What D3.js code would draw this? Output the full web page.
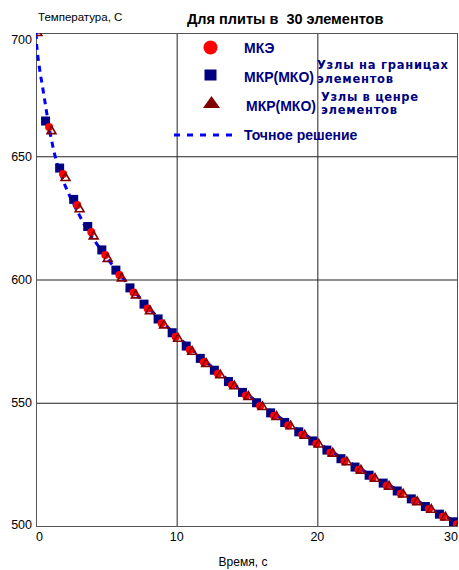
<!DOCTYPE html>
<html>
<head>
<meta charset="utf-8">
<script src="https://cdn.jsdelivr.net/npm/d3@7"></script>
<style>
  body { margin: 0; background: #fff; }
  text { font-family: "Liberation Sans", Arial, sans-serif; }
</style>
</head>
<body>
<div id="chart"></div>
<script>
// Data
// time steps (s) for the marker series
const time = [0, 1, 2, 3, 4, 5, 6, 7, 8, 9, 10, 11, 12, 13, 14, 15,
    16, 17, 18, 19, 20, 21, 22, 23, 24, 25, 26, 27, 28, 29, 30];
// МКР(МКО), nodes on element boundaries (null = no marker)
const fdmBoundary = [null, 664.3, 645.2, 632.5, 621.5, 612.0, 603.8, 596.6, 590.0, 584.0, 578.4,
    573.0, 568.0, 563.2, 558.6, 554.2, 550.0, 545.9, 542.0, 538.2, 534.5,
    530.8, 527.3, 523.9, 520.6, 517.4, 514.2, 511.0, 507.9, 504.8, 501.7];
// МКЭ
const fem = [null, 661.9, 642.8, 630.2, 619.3, 609.9, 601.8, 594.7, 588.2, 582.3, 576.8,
    571.5, 566.5, 561.8, 557.2, 552.9, 548.7, 544.7, 540.8, 537.0, 533.4,
    529.7, 526.2, 522.8, 519.5, 516.3, 513.1, 510.0, 506.9, 503.8, 500.7];
// МКР(МКО), nodes in element centres
const fdmCentre = [700.0, 660.2, 641.2, 628.5, 617.5, 608.4, 600.5, 593.6, 587.2, 581.4, 576.0,
    570.7, 565.8, 561.2, 556.7, 552.4, 548.3, 544.3, 540.5, 536.7, 533.1,
    529.4, 525.9, 522.5, 519.2, 516.0, 512.8, 509.7, 506.6, 503.5, 500.4];
// exact solution
const exactT = [0, 0.05, 0.1, 0.2, 0.35, 0.5, 0.75, 1, 1.25, 1.5, 2, 2.5, 3, 3.5, 4, 5, 6, 7, 8, 9, 10,
    11, 12, 13, 14, 15, 16, 17, 18, 19, 20, 21, 22, 23, 24, 25, 26, 27, 28, 29, 30];
const exactV = [700, 695, 692, 687.5, 682, 677, 668, 659.5, 652.5, 647, 639, 632.5, 627, 621.5, 617,
    609, 601.8, 595, 588.6, 582.7, 577.2, 572, 567, 562.3, 557.8, 553.5, 549.3, 545.3, 541.4,
    537.6, 533.9, 530.3, 526.8, 523.4, 520.1, 516.9, 513.7, 510.5, 507.4, 504.3, 501.2];
// ticks and labels
const xTicks = [0, 10, 20, 30];
const yTicks = [500, 550, 600, 650, 700];
const title = "Для плиты в  30 элементов";
const xTitle = "Время, с";
const yTitle = "Температура, С";

// Canvas and plot box
const width = 459, height = 570;
const plot = { left: 36, right: 458, top: 33, bottom: 526 };

const svg = d3.select("#chart")
    .append("svg")
    .attr("width", width)
    .attr("height", height);

const x = d3.scaleLinear().domain([0, 30]).range([plot.left, plot.right]);
const y = d3.scaleLinear().domain([500, 700]).range([plot.bottom, plot.top]);

svg.append("clipPath")
    .attr("id", "clip")
    .append("rect")
    .attr("x", plot.left)
    .attr("y", plot.top)
    .attr("width", plot.right - plot.left)
    .attr("height", plot.bottom - plot.top);

// Grid lines
svg.selectAll(".vgrid")
    .data(xTicks.slice(1, -1))
    .enter().append("line")
    .attr("class", "vgrid")
    .attr("x1", d => x(d) + 0.5).attr("x2", d => x(d) + 0.5)
    .attr("y1", plot.top).attr("y2", plot.bottom)
    .attr("stroke", "#222");
svg.selectAll(".hgrid")
    .data(yTicks.slice(1, -1))
    .enter().append("line")
    .attr("class", "hgrid")
    .attr("x1", plot.left).attr("x2", plot.right)
    .attr("y1", d => y(d) + 0.5).attr("y2", d => y(d) + 0.5)
    .attr("stroke", "#222");

// Frame
svg.append("rect")
    .attr("x", plot.left + 0.5)
    .attr("y", plot.top + 0.5)
    .attr("width", plot.right - plot.left - 1)
    .attr("height", plot.bottom - plot.top)
    .attr("fill", "none")
    .attr("stroke", "#555");

const g = svg.append("g").attr("clip-path", "url(#clip)");

// Exact solution, dashed blue line
const line = d3.line().x((d, i) => x(exactT[i])).y(d => y(d));
g.append("path")
    .datum(exactV)
    .attr("d", line)
    .attr("fill", "none")
    .attr("stroke", "#0000ff")
    .attr("stroke-width", 3)
    .attr("stroke-dasharray", "6,5");

// Marker series (markers drawn slightly apart, as in the original)
const pts = arr => time.map((t, i) => ({ t: t, v: arr[i] })).filter(d => d.v !== null);

g.selectAll(".sq")
    .data(pts(fdmBoundary))
    .enter().append("rect")
    .attr("class", "sq")
    .attr("x", d => x(d.t) - 4.5 - 4.5)
    .attr("y", d => y(d.v) - 4.5)
    .attr("width", 9)
    .attr("height", 9)
    .attr("fill", "#000080");

g.selectAll(".circ")
    .data(pts(fem))
    .enter().append("circle")
    .attr("class", "circ")
    .attr("cx", d => x(d.t) - 1)
    .attr("cy", d => y(d.v))
    .attr("r", 4)
    .attr("fill", "#ff0000");

const tri = d3.symbol().type(d3.symbolTriangle).size(34);
g.selectAll(".tri")
    .data(pts(fdmCentre))
    .enter().append("path")
    .attr("class", "tri")
    .attr("d", tri)
    .attr("transform", d => "translate(" + (x(d.t) + 1.4) + "," + y(d.v) + ")")
    .attr("fill", "none")
    .attr("stroke", "#800000")
    .attr("stroke-width", 1.6);

// Axis tick labels
svg.selectAll(".xLabel")
    .data(xTicks)
    .enter().append("text")
    .attr("class", "xLabel")
    .attr("x", d => x(d))
    .attr("y", 541)
    .attr("text-anchor", (d, i) => i === 0 ? "start" : (i === xTicks.length - 1 ? "end" : "middle"))
    .attr("font-size", "12.5px")
    .text(d => d);
svg.selectAll(".yLabel")
    .data(yTicks)
    .enter().append("text")
    .attr("class", "yLabel")
    .attr("x", 32)
    .attr("y", d => Math.min(Math.max(y(d), 39), 524) + 4.5)
    .attr("text-anchor", "end")
    .attr("font-size", "12.5px")
    .text(d => d);

// Titles
svg.append("text")
    .attr("x", 187)
    .attr("y", 24)
    .attr("font-size", "14.5px")
    .attr("font-weight", "bold")
    .style("white-space", "pre")
    .text(title);
svg.append("text")
    .attr("x", 38)
    .attr("y", 21)
    .attr("font-size", "11.5px")
    .text(yTitle);
svg.append("text")
    .attr("x", 243)
    .attr("y", 566)
    .attr("text-anchor", "middle")
    .attr("font-size", "12px")
    .text(xTitle);

// Legend
const navy = "#000080";
const legend = svg.append("g");
legend.append("circle")
    .attr("cx", 210.5).attr("cy", 47.5).attr("r", 7)
    .attr("fill", "#ff0000");
legend.append("rect")
    .attr("x", 204.5).attr("y", 69.5).attr("width", 12).attr("height", 11)
    .attr("fill", navy);
legend.append("path")
    .attr("d", "M211.5,96 L220,108 L203,108 Z")
    .attr("fill", "#800000");
legend.append("line")
    .attr("x1", 174).attr("x2", 234)
    .attr("y1", 135).attr("y2", 135)
    .attr("stroke", "#0000ff")
    .attr("stroke-width", 3)
    .attr("stroke-dasharray", "6,7");

const bigLabels = [
    { text: "МКЭ", x: 244, y: 53 },
    { text: "МКР(МКО)", x: 244, y: 82 },
    { text: "МКР(МКО)", x: 246, y: 111 },
    { text: "Точное решение", x: 244, y: 140 }
];
legend.selectAll(".big")
    .data(bigLabels)
    .enter().append("text")
    .attr("class", "big")
    .attr("x", d => d.x).attr("y", d => d.y)
    .attr("font-size", "14px")
    .attr("font-weight", "bold")
    .attr("fill", navy)
    .text(d => d.text);

// two-line captions in a wider face, stretched to the original widths
const smallLabels = [
    { text: "Узлы на границах", x: 317, y: 69, w: 131 },
    { text: "элементов", x: 317, y: 82.5, w: 76 },
    { text: "Узлы в ценре", x: 321, y: 100.5, w: 97 },
    { text: "элементов", x: 321, y: 114, w: 76 }
];
legend.selectAll(".small")
    .data(smallLabels)
    .enter().append("text")
    .attr("class", "small")
    .attr("x", d => d.x).attr("y", d => d.y)
    .style("font-family", "'DejaVu Sans', sans-serif")
    .attr("font-size", "11.5px")
    .attr("font-weight", "bold")
    .attr("fill", navy)
    .attr("textLength", d => d.w)
    .attr("lengthAdjust", "spacing")
    .text(d => d.text);
</script>
</body>
</html>
